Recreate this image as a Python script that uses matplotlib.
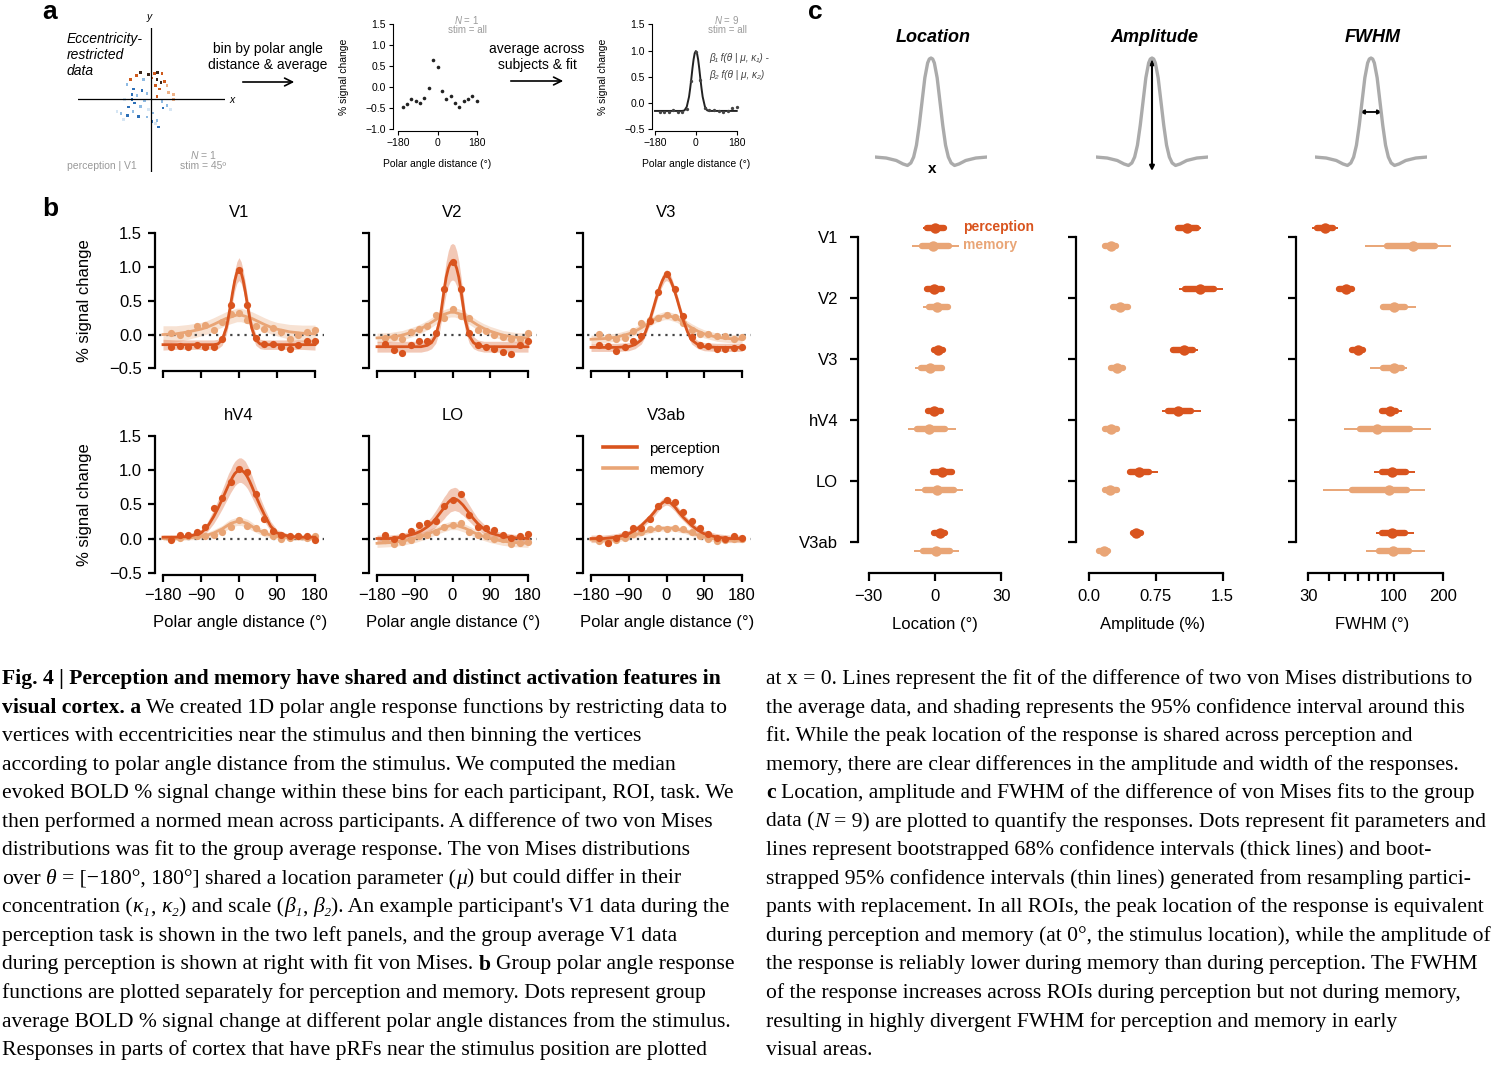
"""Fig. 4 remake: polar angle response functions for perception vs memory
(panel a: method sketch, b: group curves per ROI, c: fit parameters)."""

import matplotlib
matplotlib.use("Agg")
import matplotlib.pyplot as plt
from matplotlib.lines import Line2D
from matplotlib.patches import FancyArrowPatch

W, H = 1500, 1065
PERC = "#d9541e"
MEM = "#e9a576"
GREY = "#9a9a9a"
SANS = ["Liberation Sans", "DejaVu Sans"]
SERIF = ["Liberation Serif", "DejaVu Serif"]

plt.rcParams["font.family"] = SANS
plt.rcParams["mathtext.fontset"] = "custom"
plt.rcParams["mathtext.rm"] = "Liberation Sans"
plt.rcParams["mathtext.it"] = "Liberation Sans:italic"

# ---------------- panel a data ----------------
# one participant's eccentricity-restricted vertices (x, y in sketch units)
SCAT_X = [-10.7, -14.7, -20.7, -2.3, 3.3, 6.7, 11, 1, 6, 10, 13.3, 16, 8.7, 4.3, 6, 17.7, 22.7, -24,
          -17.3, -9, -19, -14, -22.3, -18, -10.7, -23.3, -30, -12.3, -4, 2, 6, 7.7, 12, 16, 11, -6.7,
          -4, -16.7, -27.3, 4.3, 19.3, -2.3, -34, -26.7, 22.7, -7.3, -19, 1]
SCAT_Y = [26.7, 23.3, 19.3, 24.3, 25.3, 26.7, 25.3, 21, 19.3, 16.7, 17.7, 13.3, 10, 13.3, 2.7, 6.7,
          -0.7, 14.3, 10, 8.7, -0.7, 3.3, -8, -12.3, -7.3, -16.7, -14.7, -17.3, -18, -14, -21.3, -28,
          -9, -6.7, -2.3, -1.3, 5.3, -4, -20.7, -24.7, -10.7, -10.7, -12.3, -0.7, 4.3, 19.3, 4.3, -22.3]
SCAT_KIND = [0, 1, 1, 0, 1, 0, 1, 1, 0, 0, 1, 2, 1, 1, 1, 2, 2, 4, 3, 3, 3, 4, 3, 4, 4, 3, 4, 3, 4, 4,
             4, 3, 3, 4, 4, 4, 4, 3, 5, 5, 5, 5, 5, 5, 2, 4, 3, 3]
SCAT_COLORS = ["#3a2519", "#cf5a1c", "#efb287", "#2c6fb7", "#8fbbe3", "#d6e6f4"]

DOT_X = [-160, -140, -120, -100, -80, -60, -40, -20, 0, 20, 40, 60, 80, 100, 120, 140, 160, 180]
SUBJ_DOTS = [-0.46, -0.40, -0.27, -0.33, -0.37, -0.25, -0.01, 0.64, 0.48, -0.10, -0.27, -0.20,
             -0.37, -0.46, -0.33, -0.27, -0.21, -0.32]
GROUP_DOTS = [-0.17, -0.17, -0.17, -0.13, -0.17, -0.17, -0.12, 0.42, 0.97, 0.43, -0.10, -0.13,
              -0.14, -0.16, -0.18, -0.16, -0.10, -0.08]

FIT_X = [-180, -150, -120, -90, -75, -60, -50, -40, -30, -25, -20, -15, -10, -5, 0,
         5, 10, 15, 20, 25, 30, 40, 50, 60, 75, 90, 120, 150, 180]
GROUP_FIT = [-0.15, -0.15, -0.15, -0.15, -0.15, -0.15, -0.14, -0.07, 0.12, 0.28, 0.46, 0.66, 0.83, 0.95, 0.99,
             0.95, 0.83, 0.66, 0.46, 0.28, 0.12, -0.07, -0.14, -0.15, -0.15, -0.15, -0.15, -0.15, -0.15]

# ---------------- panel b data (order: V1, V2, V3, hV4, LO, V3ab) ----------------
ROIS = ["V1", "V2", "V3", "hV4", "LO", "V3ab"]

PERC_DOTS = [
    [-0.19, -0.17, -0.18, -0.15, -0.18, -0.18, -0.06, 0.44, 0.96, 0.44, -0.05, -0.14, -0.14, -0.18, -0.22, -0.16, -0.09, -0.09],
    [-0.14, -0.23, -0.27, -0.16, -0.10, -0.09, 0.02, 0.68, 1.08, 0.68, 0.02, -0.16, -0.19, -0.21, -0.26, -0.29, -0.16, -0.10],
    [-0.16, -0.17, -0.24, -0.19, -0.10, -0.02, 0.20, 0.63, 0.90, 0.67, 0.28, -0.04, -0.15, -0.17, -0.22, -0.21, -0.20, -0.19],
    [-0.02, 0.05, 0.05, 0.09, 0.17, 0.45, 0.59, 0.82, 1.01, 0.97, 0.65, 0.28, 0.11, 0.05, 0.03, 0.04, 0.03, -0.02],
    [0.05, -0.01, 0.04, 0.11, 0.20, 0.23, 0.25, 0.48, 0.57, 0.65, 0.35, 0.17, 0.16, 0.12, 0.05, 0.01, 0.03, 0.07],
    [0.01, -0.07, 0.01, 0.06, 0.15, 0.15, 0.29, 0.47, 0.56, 0.54, 0.39, 0.26, 0.15, 0.06, 0.01, -0.01, 0.04, 0.01],
]
MEM_DOTS = [
    [0.03, 0.0, 0.03, 0.12, 0.14, 0.06, 0.19, 0.30, 0.32, 0.21, 0.12, 0.08, 0.09, 0.04, -0.06, 0.0, 0.04, 0.07],
    [-0.05, -0.04, -0.06, 0.04, 0.08, 0.12, 0.29, 0.24, 0.38, 0.27, 0.24, 0.07, 0.05, 0.0, -0.04, -0.06, -0.06, 0.02],
    [0.01, -0.04, -0.06, -0.05, 0.05, 0.17, 0.21, 0.25, 0.29, 0.26, 0.17, 0.07, 0.01, 0.01, -0.02, -0.02, -0.07, -0.04],
    [-0.01, 0.01, 0.03, 0.03, 0.03, 0.05, 0.10, 0.17, 0.27, 0.18, 0.16, 0.10, 0.03, 0.0, 0.01, 0.03, 0.01, 0.03],
    [-0.02, -0.08, -0.05, -0.02, 0.03, 0.05, 0.10, 0.17, 0.20, 0.23, 0.10, 0.05, 0.03, 0.0, -0.01, -0.08, -0.06, -0.05],
    [-0.03, -0.06, -0.02, 0.01, 0.06, 0.10, 0.14, 0.15, 0.14, 0.15, 0.14, 0.09, 0.04, -0.01, -0.03, -0.02, -0.01, 0.0],
]
PERC_FIT = [
    [-0.15, -0.15, -0.15, -0.15, -0.15, -0.15, -0.14, -0.08, 0.10, 0.26, 0.44, 0.63, 0.80, 0.92, 0.97,
     0.92, 0.80, 0.63, 0.44, 0.26, 0.10, -0.08, -0.14, -0.15, -0.15, -0.15, -0.15, -0.15, -0.15],
    [-0.18, -0.18, -0.18, -0.18, -0.18, -0.16, -0.12, -0.02, 0.22, 0.44, 0.66, 0.85, 0.98, 1.06, 1.08,
     1.06, 0.98, 0.85, 0.66, 0.44, 0.22, -0.02, -0.12, -0.16, -0.18, -0.18, -0.18, -0.18, -0.18],
    [-0.19, -0.19, -0.19, -0.18, -0.15, -0.08, 0.04, 0.21, 0.42, 0.53, 0.63, 0.72, 0.80, 0.86, 0.88,
     0.86, 0.80, 0.72, 0.63, 0.53, 0.42, 0.21, 0.04, -0.08, -0.15, -0.18, -0.19, -0.19, -0.19],
    [0.02, 0.02, 0.03, 0.08, 0.17, 0.32, 0.44, 0.57, 0.71, 0.78, 0.84, 0.90, 0.95, 0.98, 1.00,
     1.00, 0.98, 0.95, 0.90, 0.84, 0.77, 0.62, 0.48, 0.35, 0.18, 0.08, 0.03, 0.02, 0.02],
    [0.0, 0.0, 0.02, 0.07, 0.11, 0.17, 0.22, 0.29, 0.37, 0.41, 0.45, 0.49, 0.53, 0.56, 0.57,
     0.58, 0.57, 0.55, 0.52, 0.49, 0.45, 0.37, 0.29, 0.22, 0.14, 0.08, 0.03, 0.01, 0.0],
    [0.0, 0.0, 0.02, 0.07, 0.12, 0.19, 0.25, 0.31, 0.38, 0.42, 0.46, 0.49, 0.52, 0.54, 0.55,
     0.54, 0.52, 0.49, 0.46, 0.42, 0.38, 0.31, 0.25, 0.19, 0.12, 0.07, 0.02, 0.0, 0.0],
]
MEM_FIT = [
    [0.0, 0.01, 0.04, 0.08, 0.11, 0.15, 0.18, 0.21, 0.24, 0.25, 0.26, 0.27, 0.28, 0.29, 0.29,
     0.29, 0.28, 0.27, 0.26, 0.25, 0.24, 0.21, 0.18, 0.15, 0.11, 0.08, 0.04, 0.02, 0.01],
    [-0.05, -0.04, -0.01, 0.05, 0.09, 0.14, 0.18, 0.22, 0.26, 0.28, 0.30, 0.31, 0.32, 0.33, 0.33,
     0.33, 0.32, 0.31, 0.30, 0.28, 0.26, 0.22, 0.18, 0.14, 0.09, 0.05, -0.01, -0.04, -0.05],
    [-0.07, -0.06, -0.04, 0.01, 0.05, 0.10, 0.14, 0.18, 0.22, 0.24, 0.25, 0.26, 0.27, 0.28, 0.28,
     0.28, 0.27, 0.26, 0.25, 0.24, 0.22, 0.18, 0.14, 0.10, 0.05, 0.01, -0.04, -0.06, -0.07],
    [0.0, 0.0, 0.01, 0.03, 0.05, 0.08, 0.11, 0.14, 0.18, 0.20, 0.22, 0.23, 0.24, 0.25, 0.25,
     0.25, 0.24, 0.23, 0.22, 0.20, 0.18, 0.14, 0.11, 0.08, 0.05, 0.03, 0.01, 0.0, 0.0],
    [-0.07, -0.06, -0.04, 0.0, 0.03, 0.06, 0.09, 0.11, 0.14, 0.15, 0.16, 0.17, 0.18, 0.19, 0.19,
     0.19, 0.19, 0.18, 0.17, 0.16, 0.15, 0.12, 0.09, 0.06, 0.03, 0.0, -0.04, -0.06, -0.07],
    [-0.02, -0.02, -0.01, 0.02, 0.05, 0.08, 0.10, 0.12, 0.13, 0.14, 0.14, 0.15, 0.15, 0.15, 0.15,
     0.15, 0.15, 0.15, 0.14, 0.14, 0.13, 0.12, 0.10, 0.08, 0.05, 0.02, -0.01, -0.02, -0.02],
]
# half-width of the 95% band around each fit
PERC_BAND = [
    [0.08, 0.07, 0.07, 0.07, 0.07, 0.07, 0.07, 0.08, 0.10, 0.12, 0.13, 0.14, 0.15, 0.16, 0.17,
     0.16, 0.15, 0.14, 0.13, 0.12, 0.10, 0.08, 0.07, 0.07, 0.07, 0.07, 0.07, 0.07, 0.08],
    [0.08, 0.08, 0.08, 0.08, 0.08, 0.08, 0.09, 0.11, 0.15, 0.18, 0.21, 0.24, 0.26, 0.27, 0.27,
     0.27, 0.26, 0.24, 0.21, 0.18, 0.15, 0.11, 0.09, 0.08, 0.08, 0.08, 0.08, 0.08, 0.08],
    [0.06, 0.06, 0.06, 0.06, 0.06, 0.06, 0.06, 0.06, 0.07, 0.07, 0.07, 0.07, 0.08, 0.08, 0.08,
     0.08, 0.08, 0.07, 0.07, 0.07, 0.07, 0.06, 0.06, 0.06, 0.06, 0.06, 0.06, 0.06, 0.06],
    [0.03, 0.03, 0.03, 0.05, 0.07, 0.10, 0.12, 0.14, 0.16, 0.17, 0.17, 0.18, 0.18, 0.18, 0.18,
     0.18, 0.18, 0.18, 0.17, 0.17, 0.16, 0.14, 0.12, 0.10, 0.07, 0.05, 0.03, 0.03, 0.03],
    [0.05, 0.05, 0.05, 0.06, 0.07, 0.08, 0.10, 0.12, 0.14, 0.15, 0.16, 0.16, 0.17, 0.17, 0.17,
     0.17, 0.17, 0.16, 0.16, 0.15, 0.14, 0.12, 0.10, 0.08, 0.07, 0.06, 0.05, 0.05, 0.05],
    [0.05, 0.05, 0.05, 0.05, 0.05, 0.05, 0.05, 0.05, 0.06, 0.06, 0.06, 0.06, 0.06, 0.06, 0.06,
     0.06, 0.06, 0.06, 0.06, 0.06, 0.06, 0.05, 0.05, 0.05, 0.05, 0.05, 0.05, 0.05, 0.05],
]
MEM_BAND = [
    [0.13, 0.12, 0.11, 0.10, 0.10, 0.10, 0.10, 0.10, 0.10, 0.10, 0.10, 0.10, 0.10, 0.10, 0.10,
     0.10, 0.10, 0.10, 0.10, 0.10, 0.10, 0.10, 0.10, 0.10, 0.10, 0.10, 0.11, 0.12, 0.13],
    [0.07, 0.07, 0.07, 0.07, 0.07, 0.07, 0.07, 0.07, 0.07, 0.07, 0.07, 0.07, 0.07, 0.07, 0.07,
     0.07, 0.07, 0.07, 0.07, 0.07, 0.07, 0.07, 0.07, 0.07, 0.07, 0.07, 0.07, 0.07, 0.07],
    [0.06, 0.06, 0.06, 0.06, 0.06, 0.06, 0.06, 0.06, 0.06, 0.06, 0.06, 0.06, 0.06, 0.06, 0.06,
     0.06, 0.06, 0.06, 0.06, 0.06, 0.06, 0.06, 0.06, 0.06, 0.06, 0.06, 0.06, 0.06, 0.06],
    [0.03, 0.03, 0.03, 0.04, 0.04, 0.05, 0.05, 0.05, 0.06, 0.06, 0.06, 0.06, 0.06, 0.06, 0.06,
     0.06, 0.06, 0.06, 0.06, 0.06, 0.06, 0.05, 0.05, 0.05, 0.04, 0.04, 0.03, 0.03, 0.03],
    [0.06, 0.06, 0.06, 0.06, 0.06, 0.06, 0.06, 0.06, 0.06, 0.06, 0.06, 0.06, 0.06, 0.06, 0.06,
     0.06, 0.06, 0.06, 0.06, 0.06, 0.06, 0.06, 0.06, 0.06, 0.06, 0.06, 0.06, 0.06, 0.06],
    [0.04, 0.04, 0.04, 0.04, 0.04, 0.04, 0.04, 0.04, 0.04, 0.04, 0.04, 0.04, 0.04, 0.04, 0.04,
     0.04, 0.04, 0.04, 0.04, 0.04, 0.04, 0.04, 0.04, 0.04, 0.04, 0.04, 0.04, 0.04, 0.04],
]

# ---------------- panel c data ----------------
# illustration curve (normalised width / height)
ILL_X = [-1.0, -0.8, -0.62, -0.5, -0.42, -0.36, -0.31, -0.26, -0.21, -0.16, -0.11, -0.06, -0.03, 0.0,
         0.03, 0.06, 0.11, 0.16, 0.21, 0.26, 0.31, 0.36, 0.42, 0.5, 0.62, 0.8, 1.0]
ILL_Y = [0.0, -0.01, -0.035, -0.07, -0.085, -0.06, 0.0, 0.12, 0.32, 0.56, 0.80, 0.95, 0.99, 1.0,
         0.99, 0.95, 0.80, 0.56, 0.32, 0.12, 0.0, -0.06, -0.085, -0.07, -0.035, -0.01, 0.0]

LOC_PERC = [0.0, -0.5, 1.2, -0.3, 3.3, 2.3]
LOC_PERC_68 = [(-3.8, 4.1), (-3.8, 3.0), (-0.5, 3.5), (-3.0, 2.7), (-0.8, 7.5), (-0.5, 4.5)]
LOC_PERC_95 = [(-5.3, 5.3), (-5.0, 3.5), (-0.8, 3.8), (-4.0, 3.0), (-1.8, 8.6), (-0.8, 5.0)]
LOC_MEM = [-0.75, 0.75, -2.3, -2.6, 0.75, 0.3]
LOC_MEM_68 = [(-6.0, 6.5), (-2.6, 6.0), (-6.3, 3.0), (-8.3, 4.5), (-4.5, 8.7), (-5.3, 6.8)]
LOC_MEM_95 = [(-10.6, 11.0), (-5.6, 6.5), (-9.0, 4.5), (-12.4, 9.4), (-9.0, 12.5), (-9.5, 11.0)]

AMP_PERC = [1.095, 1.24, 1.065, 1.0, 0.56, 0.53]
AMP_PERC_68 = [(1.0, 1.21), (1.08, 1.40), (0.94, 1.17), (0.88, 1.14), (0.46, 0.675), (0.49, 0.58)]
AMP_PERC_95 = [(0.98, 1.26), (1.01, 1.50), (0.91, 1.22), (0.82, 1.26), (0.42, 0.77), (0.48, 0.59)]
AMP_MEM = [0.24, 0.35, 0.315, 0.24, 0.23, 0.165]
AMP_MEM_68 = [(0.18, 0.30), (0.27, 0.44), (0.24, 0.38), (0.18, 0.31), (0.18, 0.31), (0.11, 0.21)]
AMP_MEM_95 = [(0.176, 0.31), (0.26, 0.45), (0.23, 0.39), (0.18, 0.31), (0.165, 0.34), (0.105, 0.22)]

FWHM_PERC = [37.9, 50.9, 60.0, 94.4, 96.7, 96.7]
FWHM_PERC_68 = [(33.7, 42.2), (46.4, 55.1), (55.1, 65.1), (84.0, 103.5), (84.0, 117.5), (84.0, 116.6)]
FWHM_PERC_95 = [(31.7, 45.3), (45.1, 57.2), (53.1, 67.5), (80.6, 111.1), (75.1, 134.0), (77.3, 132.0)]
FWHM_MEM = [131.0, 100.0, 100.0, 78.3, 93.4, 98.0]
FWHM_MEM_68 = [(90.1, 177.6), (85.2, 116.6), (85.2, 111.1), (62.0, 125.0), (55.4, 119.3), (81.3, 122.7)]
FWHM_MEM_95 = [(66.5, 221.0), (82.0, 136.0), (71.6, 120.6), (49.5, 167.0), (37.0, 154.0), (67.1, 154.0)]

# ---------------- caption ----------------
CAPTION_LEFT = [
    [("Fig. 4 | Perception and memory have shared and distinct activation features in", "b")],
    [("visual cortex. a", "b"), (" We created 1D polar angle response functions by restricting data to", "r")],
    [("vertices with eccentricities near the stimulus and then binning the vertices", "r")],
    [("according to polar angle distance from the stimulus. We computed the median", "r")],
    [("evoked BOLD % signal change within these bins for each participant, ROI, task. We", "r")],
    [("then performed a normed mean across participants. A difference of two von Mises", "r")],
    [("distributions was fit to the group average response. The von Mises distributions", "r")],
    [("over ", "r"), ("\u03b8", "i"), (" = [\u2212180\u00b0, 180\u00b0] shared a location parameter (", "r"),
     ("\u03bc", "i"), (") but could differ in their", "r")],
    [("concentration (", "r"), ("\u03ba\u2081", "i"), (", ", "r"), ("\u03ba\u2082", "i"), (") and scale (", "r"),
     ("\u03b2\u2081", "i"), (", ", "r"), ("\u03b2\u2082", "i"), ("). An example participant's V1 data during the", "r")],
    [("perception task is shown in the two left panels, and the group average V1 data", "r")],
    [("during perception is shown at right with fit von Mises. ", "r"), ("b", "b"), (" Group polar angle response", "r")],
    [("functions are plotted separately for perception and memory. Dots represent group", "r")],
    [("average BOLD % signal change at different polar angle distances from the stimulus.", "r")],
    [("Responses in parts of cortex that have pRFs near the stimulus position are plotted", "r")],
]
CAPTION_RIGHT = [
    [("at x = 0. Lines represent the fit of the difference of two von Mises distributions to", "r")],
    [("the average data, and shading represents the 95% confidence interval around this", "r")],
    [("fit. While the peak location of the response is shared across perception and", "r")],
    [("memory, there are clear differences in the amplitude and width of the responses.", "r")],
    [("c", "b"), (" Location, amplitude and FWHM of the difference of von Mises fits to the group", "r")],
    [("data (", "r"), ("N", "i"), (" = 9) are plotted to quantify the responses. Dots represent fit parameters and", "r")],
    [("lines represent bootstrapped 68% confidence intervals (thick lines) and boot-", "r")],
    [("strapped 95% confidence intervals (thin lines) generated from resampling partici-", "r")],
    [("pants with replacement. In all ROIs, the peak location of the response is equivalent", "r")],
    [("during perception and memory (at 0\u00b0, the stimulus location), while the amplitude of", "r")],
    [("the response is reliably lower during memory than during perception. The FWHM", "r")],
    [("of the response increases across ROIs during perception but not during memory,", "r")],
    [("resulting in highly divergent FWHM for perception and memory in early", "r")],
    [("visual areas.", "r")],
]


def px_axes(fig, left, top, right, bottom):
    ax = fig.add_axes([left / W, 1 - bottom / H, (right - left) / W, (bottom - top) / H])
    ax.patch.set_visible(False)
    return ax


def ftext(fig, x, y, s, **kw):
    return fig.text(x / W, 1 - y / H, s, **kw)


def despine(ax, lw, tick_len, size, left_out, bottom_out, pad=3):
    for side in ("top", "right"):
        ax.spines[side].set_visible(False)
    ax.spines["left"].set_position(("outward", left_out))
    ax.spines["bottom"].set_position(("outward", bottom_out))
    for side in ("left", "bottom"):
        ax.spines[side].set_linewidth(lw)
    ax.tick_params(width=lw, length=tick_len, labelsize=size, pad=pad, colors="black")


def minus(v, fmt):
    return (fmt % v).replace("-", "\u2212")


def draw_panel_a(fig):
    ftext(fig, 42, 12, "a", size=19, weight="bold", va="center")

    # eccentricity-restricted data sketch
    ax = px_axes(fig, 78, 28, 225, 172)
    ax.set_xlim(-73, 74)
    ax.set_ylim(-73, 71)
    ax.axis("off")
    ax.axhline(0, color="black", lw=0.9)
    ax.axvline(0, color="black", lw=0.9)
    ax.scatter(SCAT_X, SCAT_Y, c=[SCAT_COLORS[k] for k in SCAT_KIND], s=3.5, marker="s", lw=0)
    ftext(fig, 149, 17, "y", size=7.5, style="italic", ha="center", va="center")
    ftext(fig, 232, 100, "x", size=7.5, style="italic", ha="center", va="center")
    ftext(fig, 67, 32, "Eccentricity-\nrestricted\ndata", size=10, style="italic", va="top", linespacing=1.2)
    ftext(fig, 67, 166, "perception | V1", size=7.5, color=GREY, va="center")
    ftext(fig, 203, 155, "$N$ = 1", size=7.5, color=GREY, ha="center", va="center")
    ftext(fig, 203, 166, "stim = 45\u00ba", size=7.5, color=GREY, ha="center", va="center")

    ftext(fig, 268, 57, "bin by polar angle\ndistance & average", size=10, ha="center", va="center",
          linespacing=1.2)
    ftext(fig, 537, 57, "average across\nsubjects & fit", size=10, ha="center", va="center", linespacing=1.2)
    for x0, x1, y in ((240, 297, 82), (508, 566, 81)):
        fig.add_artist(FancyArrowPatch((x0 / W, 1 - y / H), (x1 / W, 1 - y / H), transform=fig.transFigure,
                                       arrowstyle="->", mutation_scale=14, lw=1.2, color="black"))

    # single participant binned data
    ax = px_axes(fig, 398.3, 24.3, 476.7, 129.3)
    ax.set_xlim(-180, 180)
    ax.set_ylim(-1.0, 1.5)
    ax.plot(DOT_X, SUBJ_DOTS, "o", color="#222222", ms=2.6, mew=0, clip_on=False)
    despine(ax, 0.8, 3, 7.5, 4, 1, pad=2)
    ax.spines["left"].set_bounds(-1.0, 1.5)
    ax.set_yticks([-1.0, -0.5, 0, 0.5, 1.0, 1.5])
    ax.set_yticklabels([minus(v, "%.1f") for v in [-1.0, -0.5, 0, 0.5, 1.0, 1.5]])
    ax.set_xticks([-180, 0, 180])
    ax.set_xticklabels(["\u2212180", "0", "180"])
    ftext(fig, 344, 77, "% signal change", size=7.5, rotation=90, ha="center", va="center")
    ftext(fig, 437, 164, "Polar angle distance (\u00b0)", size=7.5, ha="center", va="center")
    ftext(fig, 467, 20, "$N$ = 1", size=7, color=GREY, ha="center", va="center")
    ftext(fig, 467, 30, "stim = all", size=7, color=GREY, ha="center", va="center")

    # group average with fit
    ax = px_axes(fig, 655, 24.3, 736.7, 129.3)
    ax.set_xlim(-180, 180)
    ax.set_ylim(-0.5, 1.5)
    ax.plot(FIT_X, GROUP_FIT, color="#222222", lw=1.4, clip_on=False)
    ax.plot(DOT_X, GROUP_DOTS, "o", color="#444444", ms=2.4, mew=0, clip_on=False)
    despine(ax, 0.8, 3, 7.5, 2.5, 1, pad=2)
    ax.set_yticks([-0.5, 0, 0.5, 1.0, 1.5])
    ax.set_yticklabels([minus(v, "%.1f") for v in [-0.5, 0, 0.5, 1.0, 1.5]])
    ax.set_xticks([-180, 0, 180])
    ax.set_xticklabels(["\u2212180", "0", "180"])
    ftext(fig, 603, 77, "% signal change", size=7.5, rotation=90, ha="center", va="center")
    ftext(fig, 696, 164, "Polar angle distance (\u00b0)", size=7.5, ha="center", va="center")
    ftext(fig, 727, 20, "$N$ = 9", size=7, color=GREY, ha="center", va="center")
    ftext(fig, 727, 30, "stim = all", size=7, color=GREY, ha="center", va="center")
    greek = dict(size=7.2, style="italic", color="#444444", va="center", family=SANS)
    ftext(fig, 709, 58, "\u03b2\u2081 f(\u03b8 | \u03bc, \u03ba\u2081) -", **greek)
    ftext(fig, 709, 75, "\u03b2\u2082 f(\u03b8 | \u03bc, \u03ba\u2082)", **greek)


def draw_panel_b(fig):
    ftext(fig, 42, 209, "b", size=19, weight="bold", va="center")
    cols = [(163, 315), (377, 528), (591, 742)]
    rows = [(233.3, 368.3), (436, 572.7)]
    ticks_y = [-0.5, 0, 0.5, 1.0, 1.5]
    ticks_x = [-180, -90, 0, 90, 180]
    for k, name in enumerate(ROIS):
        r, c = divmod(k, 3)
        ax = px_axes(fig, cols[c][0], rows[r][0], cols[c][1], rows[r][1])
        ax.set_xlim(-180, 180)
        ax.set_ylim(-0.5, 1.5)
        for fit, band, col in ((MEM_FIT[k], MEM_BAND[k], MEM), (PERC_FIT[k], PERC_BAND[k], PERC)):
            lo = [f - b for f, b in zip(fit, band)]
            hi = [f + b for f, b in zip(fit, band)]
            ax.fill_between(FIT_X, lo, hi, color=col, alpha=0.32, lw=0, clip_on=False, zorder=1)
        ax.axhline(0, xmin=-0.07, xmax=1.06, color="#444444", lw=1.6, ls=(0, (1, 2.2)),
                   clip_on=False, zorder=1.5)
        for fit, dots, col in ((MEM_FIT[k], MEM_DOTS[k], MEM), (PERC_FIT[k], PERC_DOTS[k], PERC)):
            ax.plot(FIT_X, fit, color=col, lw=2, clip_on=False, zorder=3)
            ax.plot(DOT_X, dots, "o", color=col, ms=5.2, mew=0, clip_on=False, zorder=3)
        despine(ax, 1.6, 5, 12, 6, 1.8 if r else 2, pad=4)
        ax.spines["left"].set_bounds(-0.5, 1.5)
        ax.spines["bottom"].set_bounds(-180, 180)
        ax.set_yticks(ticks_y)
        ax.set_xticks(ticks_x)
        ax.set_yticklabels([minus(v, "%.1f") for v in ticks_y] if c == 0 else [])
        ax.set_xticklabels([minus(v, "%d") for v in ticks_x] if r == 1 else [])
        ftext(fig, (cols[c][0] + cols[c][1]) / 2, rows[r][0] - 21, name, size=12, ha="center", va="center")
        if c == 0:
            ftext(fig, 84, (rows[r][0] + rows[r][1]) / 2, "% signal change", size=12, rotation=90,
                  ha="center", va="center")
        if r == 1:
            ftext(fig, (cols[c][0] + cols[c][1]) / 2 + 1, 623, "Polar angle distance (\u00b0)", size=12,
                  ha="center", va="center")
        if name == "V3ab":
            handles = [Line2D([], [], color=PERC, lw=2.6), Line2D([], [], color=MEM, lw=2.6)]
            ax.legend(handles, ["perception", "memory"], loc="upper left", bbox_to_anchor=(0.06, 0.98),
                      frameon=False, fontsize=11, handlelength=2.2, handletextpad=0.8,
                      labelspacing=0.45, borderaxespad=0, borderpad=0.2)


def forest(fig, box, xlim, bounds, ticks, ticklabels, values, log=False, show_rois=False):
    ax = px_axes(fig, *box)
    if log:
        ax.set_xscale("log")
    ax.set_xlim(*xlim)
    ax.set_ylim(5.5, -0.4)
    mid_p, p68, p95, mid_m, m68, m95 = values
    for i in range(len(ROIS)):
        for y, mid, c68, c95, col in ((i - 0.15, mid_p[i], p68[i], p95[i], PERC),
                                      (i + 0.15, mid_m[i], m68[i], m95[i], MEM)):
            ax.plot(c95, [y, y], color=col, lw=1.4, solid_capstyle="butt", clip_on=False)
            ax.plot(c68, [y, y], color=col, lw=4.6, solid_capstyle="round", clip_on=False)
            ax.plot([mid], [y], "o", color=col, ms=7.5, mew=0, clip_on=False)
    despine(ax, 1.6, 6, 12, 0, 0, pad=6)
    ax.spines["left"].set_bounds(0, 5)
    ax.spines["bottom"].set_bounds(*bounds)
    ax.minorticks_off()
    ax.set_xticks(ticks)
    ax.set_xticklabels(ticklabels)
    ax.minorticks_off()
    ax.set_yticks(range(len(ROIS)))
    ax.set_yticklabels(ROIS if show_rois else [])
    ax.tick_params(axis="y", pad=8)
    return ax


def draw_panel_c(fig):
    ftext(fig, 808, 12, "c", size=19, weight="bold", va="center")
    centres = [931, 1152, 1371]
    titles = ["Location", "Amplitude", "FWHM"]
    for cx, title in zip(centres, titles):
        ftext(fig, cx + 2, 37, title, size=13, weight="bold", style="italic", ha="center", va="center")
        ax = px_axes(fig, cx - 56, 50, cx + 56, 180)
        ax.set_xlim(-1, 1)
        ax.set_ylim(-0.232, 1.081)
        ax.axis("off")
        ax.plot(ILL_X, ILL_Y, color="#ababab", lw=2.4, solid_capstyle="round")
        if title == "Location":
            ax.text(0.02, -0.12, "x", size=11, weight="bold", ha="center", va="center")
        elif title == "Amplitude":
            ax.add_patch(FancyArrowPatch((0, -0.14), (0, 0.99), arrowstyle="<|-|>", mutation_scale=7,
                                         lw=1.5, color="black", shrinkA=0, shrinkB=0))
        else:
            ax.add_patch(FancyArrowPatch((-0.2, 0.455), (0.2, 0.455), arrowstyle="<|-|>", mutation_scale=6,
                                         lw=1.3, color="black", shrinkA=0, shrinkB=0))

    forest(fig, (857.6, 212.9, 1012.4, 572.7), (-35, 35), (-30, 30), [-30, 0, 30],
           ["\u221230", "0", "30"],
           (LOC_PERC, LOC_PERC_68, LOC_PERC_95, LOC_MEM, LOC_MEM_68, LOC_MEM_95), show_rois=True)
    forest(fig, (1075.7, 212.9, 1236, 572.7), (-0.153, 1.65), (0, 1.5), [0, 0.75, 1.5],
           ["0.0", "0.75", "1.5"],
           (AMP_PERC, AMP_PERC_68, AMP_PERC_95, AMP_MEM, AMP_MEM_68, AMP_MEM_95))
    forest(fig, (1295.7, 212.9, 1462.1, 572.7), (25.14, 260), (30, 200),
           [30, 40, 50, 60, 70, 80, 90, 100, 200], ["30", "", "", "", "", "", "", "100", "200"],
           (FWHM_PERC, FWHM_PERC_68, FWHM_PERC_95, FWHM_MEM, FWHM_MEM_68, FWHM_MEM_95), log=True)

    ftext(fig, 935, 624, "Location (\u00b0)", size=12, ha="center", va="center")
    ftext(fig, 1153, 624, "Amplitude (%)", size=12, ha="center", va="center")
    ftext(fig, 1372, 624, "FWHM (\u00b0)", size=12, ha="center", va="center")
    ftext(fig, 963, 227, "perception", size=10, weight="bold", color=PERC, va="center")
    ftext(fig, 963, 245, "memory", size=10, weight="bold", color=MEM, va="center")


def font_kw(style, size):
    return dict(family=SERIF, size=size, weight="bold" if style == "b" else "normal",
                style="italic" if style == "i" else "normal")


def lay_line(fig, renderer, x, y, segs, size, keep):
    probe = [fig.text(0, 0, s, **font_kw("r", size)) for s in ("n n", "nn")]
    space = probe[0].get_window_extent(renderer).width - probe[1].get_window_extent(renderer).width
    for t in probe:
        t.remove()
    cur = x
    for text, style in segs:
        core = text.strip(" ")
        if not core:
            cur += len(text) * space
            continue
        cur += (len(text) - len(text.lstrip(" "))) * space
        t = ftext(fig, cur, y, core, va="baseline", ha="left", **font_kw(style, size))
        cur += t.get_window_extent(renderer).width
        if not keep:
            t.remove()
        cur += (len(text) - len(text.rstrip(" "))) * space
    return cur - x


def draw_caption(fig):
    renderer = fig.canvas.get_renderer()
    ref = 10.0
    ratio = min(
        min(733 / lay_line(fig, renderer, 0, 0, segs, ref, False) for segs in CAPTION_LEFT),
        min(731 / lay_line(fig, renderer, 0, 0, segs, ref, False) for segs in CAPTION_RIGHT),
    )
    size = ref * ratio
    for n, segs in enumerate(CAPTION_LEFT):
        lay_line(fig, renderer, 2, 684 + 28.55 * n, segs, size, True)
    for n, segs in enumerate(CAPTION_RIGHT):
        lay_line(fig, renderer, 766, 684 + 28.55 * n, segs, size, True)


def main():
    fig = plt.figure(figsize=(W / 100, H / 100), dpi=100)
    draw_panel_a(fig)
    draw_panel_b(fig)
    draw_panel_c(fig)
    draw_caption(fig)
    fig.savefig("out.png", dpi=100, facecolor="white")
    plt.close(fig)


if __name__ == "__main__":
    main()
